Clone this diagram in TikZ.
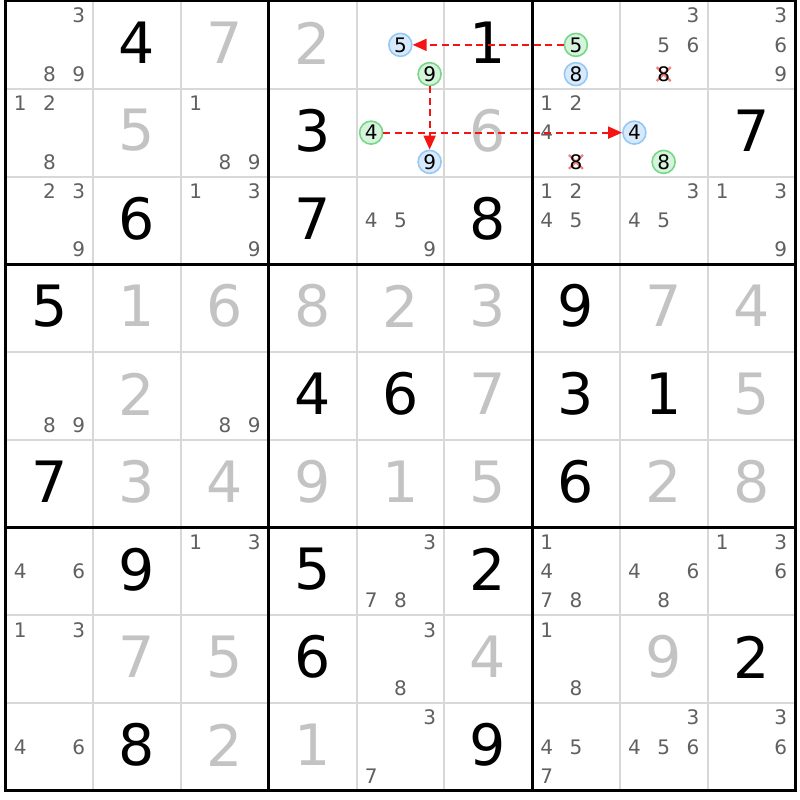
\documentclass[tikz,border=0pt]{standalone}
\usepackage{fontspec}
\setmainfont{DejaVu Sans}
\usetikzlibrary{arrows.meta}
\definecolor{candc}{RGB}{96,96,96}
\definecolor{solvc}{RGB}{195,195,195}
\definecolor{gridc}{RGB}{216,216,216}
\definecolor{bluef}{RGB}{214,234,252}
\definecolor{blued}{RGB}{150,200,245}
\definecolor{greenf}{RGB}{214,244,220}
\definecolor{greend}{RGB}{120,214,138}
\definecolor{arrc}{RGB}{245,20,20}
\definecolor{strikec}{RGB}{240,130,130}
\begin{document}
\begin{tikzpicture}[x=1pt,y=-1pt,
 given/.style={font=\fontsize{57}{57}\selectfont, text=black, inner sep=0pt},
 solved/.style={given, text=solvc},
 cand/.style={font=\fontsize{20}{20}\selectfont, text=candc, inner sep=0pt},
 bluec/.style={circle, draw=blued, fill=bluef, line width=1.6pt, minimum size=23pt, inner sep=0pt, font=\fontsize{20}{20}\selectfont, text=black},
 greenc/.style={bluec, draw=greend, fill=greenf},
 struck/.style={cand, text=black},
 link/.style={draw=arrc, line width=2pt, dash pattern=on 7pt off 4.5pt, -{Triangle[length=14pt,width=12pt]}},
 strikeline/.style={draw=strikec, line width=2.2pt},
 thin/.style={draw=gridc, line width=2pt},
 thick/.style={draw=black, line width=3pt},
]
\useasboundingbox (0,0) rectangle (800,800);
\fill[white] (0,0) rectangle (800,800);
\def\cs{87.75}
\def\ox{5.5}
\def\oy{1}
\foreach \i in {1,2,4,5,7,8} {
  \draw[thin] ({\ox+\i*\cs},\oy) -- ({\ox+\i*\cs},{\oy+9*\cs});
  \draw[thin] (\ox,{\oy+\i*\cs}) -- ({\ox+9*\cs},{\oy+\i*\cs});
}
% givens
\foreach \r/\c/\d in {0/1/4, 0/5/1, 1/3/3, 1/8/7, 2/1/6, 2/3/7, 2/5/8, 3/0/5, 3/6/9, 4/3/4, 4/4/6, 4/6/3, 4/7/1, 5/0/7, 5/6/6, 6/1/9, 6/3/5, 6/5/2, 7/3/6, 7/8/2, 8/1/8, 8/5/9}
  \node[given] (g\r\c) at ({\ox+(\c+0.5)*\cs},{\oy+(\r+0.5)*\cs-2}) {\d};
% solved
\foreach \r/\c/\d in {0/2/7, 0/3/2, 1/1/5, 1/5/6, 3/1/1, 3/2/6, 3/3/8, 3/4/2, 3/5/3, 3/7/7, 3/8/4, 4/1/2, 4/5/7, 4/8/5, 5/1/3, 5/2/4, 5/3/9, 5/4/1, 5/5/5, 5/7/2, 5/8/8, 7/1/7, 7/2/5, 7/5/4, 7/7/9, 8/2/2, 8/3/1}
  \node[solved] (s\r\c) at ({\ox+(\c+0.5)*\cs},{\oy+(\r+0.5)*\cs-2}) {\d};
% candidates
\foreach \r/\c/\ds in {0/0/{3,8,9}, 0/7/{3,5,6}, 0/8/{3,6,9},
  1/0/{1,2,8}, 1/2/{1,8,9}, 1/6/{1,2,4},
  2/0/{2,3,9}, 2/2/{1,3,9}, 2/4/{4,5,9}, 2/6/{1,2,4,5}, 2/7/{3,4,5}, 2/8/{1,3,9},
  4/0/{8,9}, 4/2/{8,9},
  6/0/{4,6}, 6/2/{1,3}, 6/4/{3,7,8}, 6/6/{1,4,7,8}, 6/7/{4,6,8}, 6/8/{1,3,6},
  7/0/{1,3}, 7/4/{3,8}, 7/6/{1,8},
  8/0/{4,6}, 8/4/{3,7}, 8/6/{4,5,7}, 8/7/{3,4,5,6}, 8/8/{3,6}} {
  \foreach \d in \ds {
    \node[cand] (k\r\c\d) at ({\ox+\c*\cs+\cs/6+mod(\d-1,3)*\cs/3},{\oy+\r*\cs+\cs/6+int((\d-1)/3)*\cs/3}) {\d};
  }
}
% struck candidates
\foreach \r/\c/\d in {0/7/8, 1/6/8} {
  \coordinate (x\r\c\d) at ({\ox+\c*\cs+\cs/6+mod(\d-1,3)*\cs/3},{\oy+\r*\cs+\cs/6+int((\d-1)/3)*\cs/3});
  \draw[strikeline] ([shift={(-7,-7)}]x\r\c\d) -- ([shift={(7,7)}]x\r\c\d);
  \draw[strikeline] ([shift={(-7,7)}]x\r\c\d) -- ([shift={(7,-7)}]x\r\c\d);
  \node[struck] (k\r\c\d) at (x\r\c\d) {\d};
}
% circled candidates
\foreach \r/\c/\d/\s in {0/4/5/bluec, 0/4/9/greenc, 0/6/5/greenc, 0/6/8/bluec, 1/4/4/greenc, 1/4/9/bluec, 1/7/4/bluec, 1/7/8/greenc}
  \node[\s] (k\r\c\d) at ({\ox+\c*\cs+\cs/6+mod(\d-1,3)*\cs/3},{\oy+\r*\cs+\cs/6+int((\d-1)/3)*\cs/3}) {\d};
% links
\draw[link] (k065) -- (k045);
\draw[link] (k049) -- (k149);
\draw[link] (k144) -- (k174);
% thick lines
\foreach \i in {0,3,6,9} {
  \draw[thick] ({\ox+\i*\cs},{\oy-1.5}) -- ({\ox+\i*\cs},{\oy+9*\cs+1.5});
  \draw[thick] ({\ox-1.5},{\oy+\i*\cs}) -- ({\ox+9*\cs+1.5},{\oy+\i*\cs});
}
\end{tikzpicture}
\end{document}
